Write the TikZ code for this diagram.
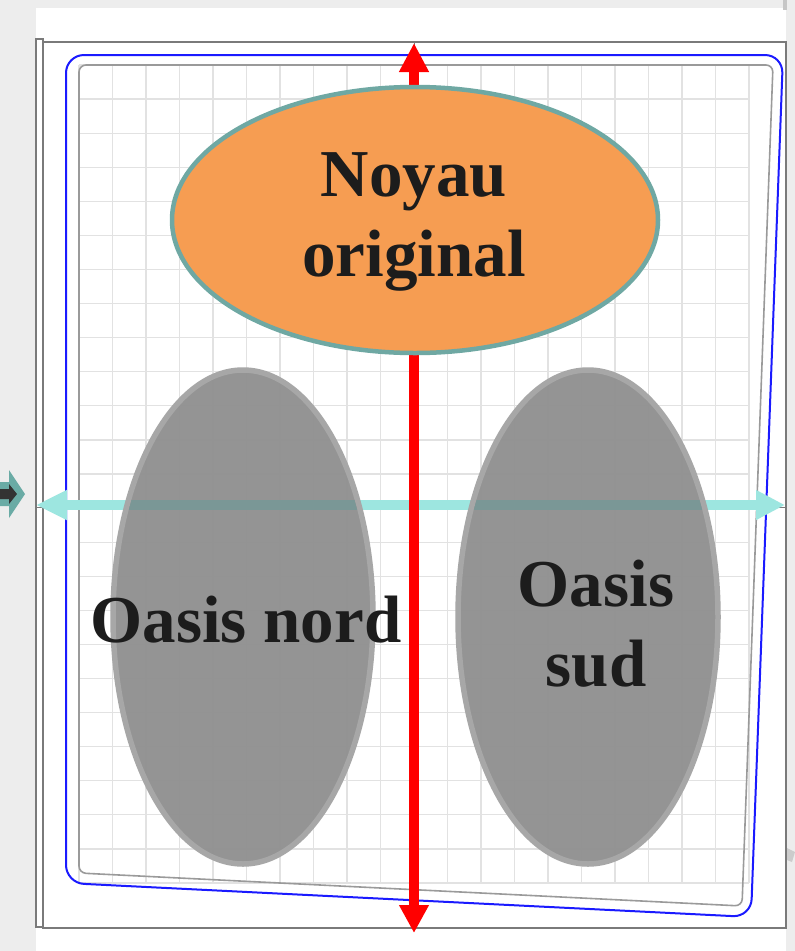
\documentclass[tikz,border=0pt]{standalone}
\usepackage{fontspec}
\setmainfont{Liberation Serif}
\usetikzlibrary{shapes.geometric,arrows.meta}
\definecolor{bgout}{HTML}{EDEDED}
\definecolor{gridc}{HTML}{E2E2E2}
\definecolor{framec}{HTML}{7A7A7A}
\definecolor{bluec}{HTML}{1A1AFF}
\definecolor{innerc}{HTML}{9A9A9A}
\definecolor{cyanc}{HTML}{9DE6E0}
\definecolor{cyandark}{HTML}{7A9796}
\definecolor{orangec}{HTML}{F69D52}
\definecolor{tealb}{HTML}{6FA8A3}
\definecolor{grayfill}{HTML}{8F8F8F}
\definecolor{grayline}{HTML}{A7A7A7}
\definecolor{txtc}{HTML}{1C1C1C}
\definecolor{iconteal}{HTML}{6AABA5}
\definecolor{icondark}{HTML}{333333}
\tikzset{
  gridline/.style={gridc, line width=1.3pt},
  framel/.style={framec, line width=1.1pt},
  bluepoly/.style={bluec, line width=2pt, rounded corners=18pt},
  innerpoly/.style={innerc, line width=1.6pt, rounded corners=7pt},
  axisl/.style={framec, line width=0.8pt},
  cyanarrow/.style={cyanc, line width=10pt, {Triangle[width=28pt,length=31pt]}-{Triangle[width=28pt,length=29pt]}},
  redarrow/.style={red, line width=10pt, {Triangle[width=28pt,length=29pt]}-{Triangle[width=28pt,length=28pt]}},
  oasis/.style={ellipse, draw=grayline, line width=5.5pt, fill=grayfill, fill opacity=0.95, draw opacity=1, minimum width=260pt, minimum height=494pt, inner sep=0pt},
  noyau/.style={ellipse, draw=tealb, line width=4.5pt, fill=orangec, minimum width=486pt, minimum height=266pt, inner sep=0pt},
  bigtxt/.style={text=txtc, font=\fontsize{67}{80}\selectfont\bfseries, align=center, inner sep=0pt}
}
\begin{document}
\begin{tikzpicture}[x=1pt,y=-1pt]
\useasboundingbox (0,0) rectangle (795,951);
% outside background and white panel
\fill[bgout] (0,0) rectangle (795,951);
\fill[white] (36,8) rectangle (786,951);
\fill[gray!45] (783,0) rectangle (787,10);
\fill[gray!40] (787,848) -- (795,852) -- (792,862) -- (787,860) -- cycle;
% grid
\foreach \i in {0,...,20} \draw[gridline] ({79+33.5*\i},65) -- ({79+33.5*\i},883);
\foreach \j in {0,...,24} \draw[gridline] (79,{65+34.083*\j}) -- (749,{65+34.083*\j});
% frames
\draw[framel] (36,39) rectangle (43,927);
\draw[framel] (43,42) rectangle (786,928);
\draw[bluepoly] (66,55) -- (783,55) -- (751,917) -- (66,883) -- cycle;
\draw[innerpoly] (79,65) -- (773,65) -- (742,906) -- (79,873) -- cycle;
% axis lines
\coordinate (axL) at (36,507);
\coordinate (axR) at (786,507);
\coordinate (axT) at (414,42);
\coordinate (axB) at (414,928);
\draw[axisl] (axL) -- (axR);
\draw[axisl] (axT) -- (axB);
% arrows
\coordinate (cl) at (36,505);
\coordinate (cr) at (785,505);
\coordinate (rt) at (414,43);
\coordinate (rb) at (414,933);
\draw[cyanarrow] (cl) -- (cr);
\draw[redarrow] (rt) -- (rb);
% oases
\node[oasis] (nord) at (243,617) {};
\node[oasis] (sud) at (588,617) {};
\begin{scope}
\clip (nord.center) ellipse [x radius=127, y radius=244];
\fill[cyandark] (100,500) rectangle (400,510);
\end{scope}
\begin{scope}
\clip (sud.center) ellipse [x radius=127, y radius=244];
\fill[cyandark] (440,500) rectangle (740,510);
\end{scope}
% core
\node[noyau] (core) at (415,220) {};
% texts (base anchor = baseline of the last line)
\node[bigtxt, anchor=base] (coretxt) at (414,276) {Noyau\\original};
\node[bigtxt, anchor=base] (nordtxt) at (246,642) {Oasis nord};
\node[bigtxt, anchor=base] (sudtxt) at (596,686) {Oasis\\sud};
% left icon
\fill[iconteal] (0,482) -- (9,482) -- (9,470) -- (25,494) -- (9,518) -- (9,506) -- (0,506) -- cycle;
\fill[icondark] (0,489) -- (9,489) -- (9,484) -- (17,494) -- (9,504) -- (9,499) -- (0,499) -- cycle;
\end{tikzpicture}
\end{document}
